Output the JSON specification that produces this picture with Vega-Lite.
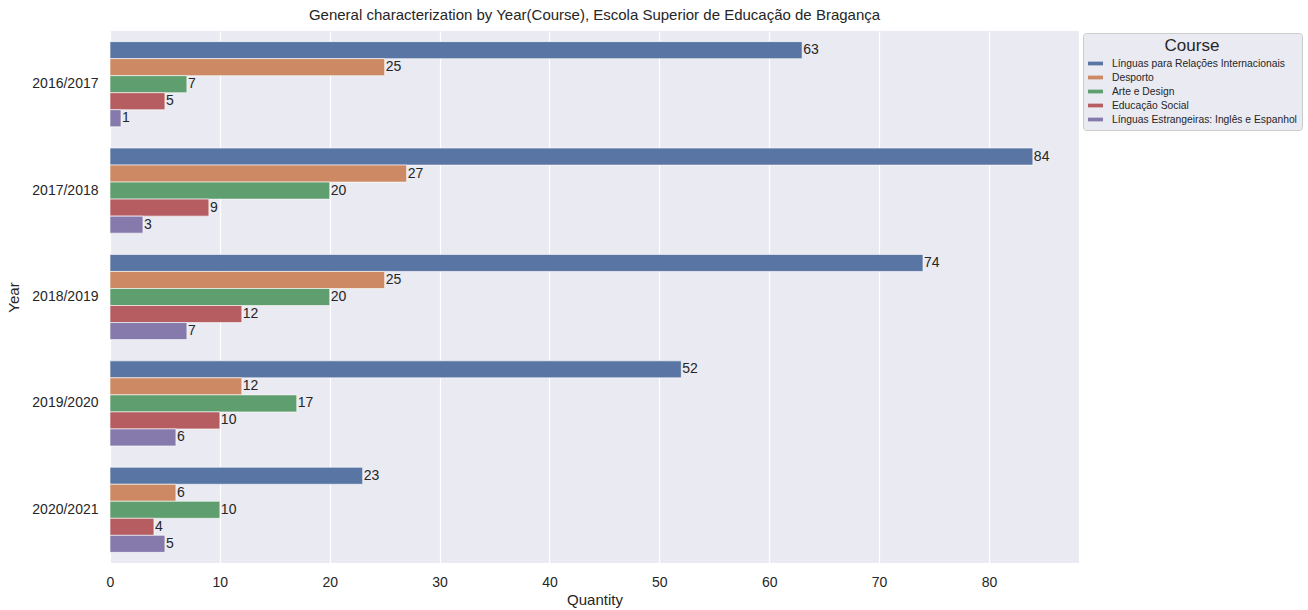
{
  "$schema": "https://vega.github.io/schema/vega-lite/v6.json",
  "autosize": {"type": "none"},
  "padding": {"left": 110, "top": 31, "right": 229, "bottom": 47},
  "width": 969,
  "height": 532,
  "background": "white",
  "title": {"text": "General characterization by Year(Course), Escola Superior de Educação de Bragança", "fontSize": 15, "font": "Liberation Sans", "fontWeight": "normal", "color": "#262626", "anchor": "middle", "offset": 8},
  "config": {
    "font": "Liberation Sans",
    "view": {"fill": "#eaeaf2", "stroke": null},
    "axis": {"labelFont": "Liberation Sans", "titleFont": "Liberation Sans", "labelColor": "#262626", "titleColor": "#262626", "labelFontSize": 14, "titleFontSize": 15, "titleFontWeight": "normal", "domain": false, "ticks": false}
  },
  "data": {"values": [
    {"Year": "2016/2017", "Course": "Línguas para Relações Internacionais", "Quantity": 63},
    {"Year": "2016/2017", "Course": "Desporto", "Quantity": 25},
    {"Year": "2016/2017", "Course": "Arte e Design", "Quantity": 7},
    {"Year": "2016/2017", "Course": "Educação Social", "Quantity": 5},
    {"Year": "2016/2017", "Course": "Línguas Estrangeiras: Inglês e Espanhol", "Quantity": 1},
    {"Year": "2017/2018", "Course": "Línguas para Relações Internacionais", "Quantity": 84},
    {"Year": "2017/2018", "Course": "Desporto", "Quantity": 27},
    {"Year": "2017/2018", "Course": "Arte e Design", "Quantity": 20},
    {"Year": "2017/2018", "Course": "Educação Social", "Quantity": 9},
    {"Year": "2017/2018", "Course": "Línguas Estrangeiras: Inglês e Espanhol", "Quantity": 3},
    {"Year": "2018/2019", "Course": "Línguas para Relações Internacionais", "Quantity": 74},
    {"Year": "2018/2019", "Course": "Desporto", "Quantity": 25},
    {"Year": "2018/2019", "Course": "Arte e Design", "Quantity": 20},
    {"Year": "2018/2019", "Course": "Educação Social", "Quantity": 12},
    {"Year": "2018/2019", "Course": "Línguas Estrangeiras: Inglês e Espanhol", "Quantity": 7},
    {"Year": "2019/2020", "Course": "Línguas para Relações Internacionais", "Quantity": 52},
    {"Year": "2019/2020", "Course": "Desporto", "Quantity": 12},
    {"Year": "2019/2020", "Course": "Arte e Design", "Quantity": 17},
    {"Year": "2019/2020", "Course": "Educação Social", "Quantity": 10},
    {"Year": "2019/2020", "Course": "Línguas Estrangeiras: Inglês e Espanhol", "Quantity": 6},
    {"Year": "2020/2021", "Course": "Línguas para Relações Internacionais", "Quantity": 23},
    {"Year": "2020/2021", "Course": "Desporto", "Quantity": 6},
    {"Year": "2020/2021", "Course": "Arte e Design", "Quantity": 10},
    {"Year": "2020/2021", "Course": "Educação Social", "Quantity": 4},
    {"Year": "2020/2021", "Course": "Línguas Estrangeiras: Inglês e Espanhol", "Quantity": 5}
  ]},
  "encoding": {
    "y": {"field": "Year", "type": "nominal", "scale": {"paddingInner": 0.2, "paddingOuter": 0.1}, "axis": {"title": "Year", "grid": false, "labelPadding": 12, "titlePadding": 10}},
    "yOffset": {"field": "Course", "type": "nominal", "sort": ["Línguas para Relações Internacionais", "Desporto", "Arte e Design", "Educação Social", "Línguas Estrangeiras: Inglês e Espanhol"], "scale": {"paddingInner": 0, "paddingOuter": 0}},
    "x": {"field": "Quantity", "type": "quantitative", "scale": {"domain": [0, 88.2], "nice": false, "zero": true}, "axis": {"title": "Quantity", "grid": true, "gridColor": "white", "gridWidth": 1.2, "values": [0,10,20,30,40,50,60,70,80], "labelFlush": false, "labelPadding": 12, "titlePadding": 3}}
  },
  "layer": [
    {
      "mark": {"type": "bar", "stroke": "white", "strokeWidth": 1, "strokeOpacity": 0.6},
      "encoding": {
        "color": {"field": "Course", "type": "nominal", "sort": ["Línguas para Relações Internacionais", "Desporto", "Arte e Design", "Educação Social", "Línguas Estrangeiras: Inglês e Espanhol"],
          "scale": {"domain": ["Línguas para Relações Internacionais", "Desporto", "Arte e Design", "Educação Social", "Línguas Estrangeiras: Inglês e Espanhol"], "range": ["#5975a4", "#cc8963", "#5f9e6e", "#b55d60", "#857aab"]},
          "legend": {"title": "Course", "orient": "none", "legendX": 973, "legendY": 2, "titleFontSize": 17, "titleFontWeight": "normal", "titleColor": "#262626", "titleAnchor": "middle", "titleFont": "Liberation Sans", "titlePadding": 1, "labelFont": "Liberation Sans", "labelFontSize": 10.3, "labelColor": "#262626", "labelOffset": 9, "symbolType": "M-1,-0.25H1V0.25H-1Z", "symbolSize": 225, "symbolStrokeWidth": 0, "rowPadding": 1, "fillColor": "#eaeaf2", "strokeColor": "#cccccc", "padding": 5, "cornerRadius": 3, "labelLimit": 300}}
      }
    },
    {
      "mark": {"type": "text", "align": "left", "baseline": "middle", "dx": 1, "fontSize": 14, "color": "#262626", "font": "Liberation Sans"},
      "encoding": {"text": {"field": "Quantity", "type": "quantitative"}}
    }
  ]
}
